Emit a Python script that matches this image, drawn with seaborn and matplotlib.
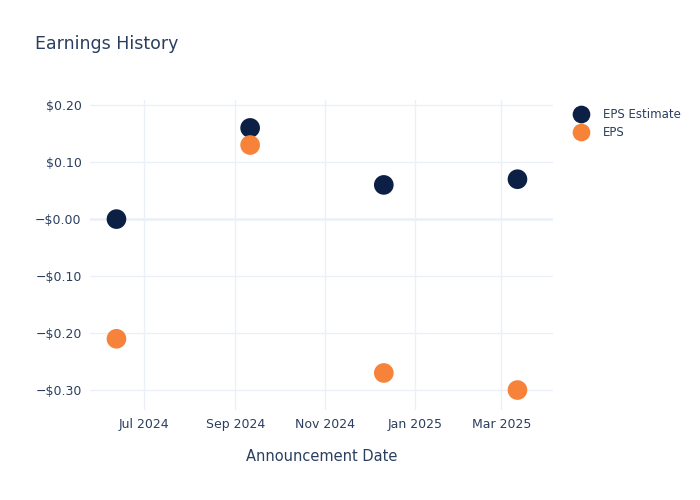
import pandas as pd
import matplotlib.pyplot as plt
import seaborn as sns

# values
dates = ["2024-06-12", "2024-09-11", "2024-12-11", "2025-03-12"]
eps_estimate = [0.00, 0.16, 0.06, 0.07]
eps_actual = [-0.21, 0.13, -0.27, -0.30]
ytick_vals = [0.20, 0.10, 0.00, -0.10, -0.20, -0.30]
ytick_labels = ["$0.20", "$0.10", "\u2212$0.00", "\u2212$0.10", "\u2212$0.20", "\u2212$0.30"]
xtick_dates = ["2024-07-01", "2024-09-01", "2024-11-01", "2025-01-01", "2025-03-01"]
xtick_labels = ["Jul 2024", "Sep 2024", "Nov 2024", "Jan 2025", "Mar 2025"]

df = pd.concat([
    pd.DataFrame({"date": pd.to_datetime(dates), "value": eps_estimate, "series": "EPS Estimate"}),
    pd.DataFrame({"date": pd.to_datetime(dates), "value": eps_actual, "series": "EPS"}),
])

sns.set_style("white")
text_col = "#2a3f5f"
grid_col = "#ebf0f8"

fig = plt.figure(figsize=(7, 5), dpi=100)
ax = fig.add_axes([0.1286, 0.18, 0.661, 0.62])

sns.scatterplot(data=df, x="date", y="value", hue="series",
                palette={"EPS Estimate": "#0c1f44", "EPS": "#f7823a"},
                s=200, edgecolor="none", ax=ax, zorder=3, legend=True)

ax.set_xlim(pd.Timestamp("2024-05-25"), pd.Timestamp("2025-04-05"))
ax.set_ylim(-0.335, 0.209)
ax.set_yticks(ytick_vals)
ax.set_yticklabels(ytick_labels)
ax.set_xticks(pd.to_datetime(xtick_dates))
ax.set_xticklabels(xtick_labels)

ax.grid(True, color=grid_col, linewidth=1, zorder=0)
ax.axhline(0, color=grid_col, linewidth=1.8, zorder=1)
for s in ax.spines.values():
    s.set_visible(False)
ax.tick_params(axis="both", length=0, labelsize=9, labelcolor=text_col, pad=6)

ax.set_xlabel("Announcement Date", fontsize=10.5, color=text_col, labelpad=13)
ax.set_ylabel("")
fig.text(0.05, 0.912, "Earnings History", fontsize=12.5, color=text_col, va="center")

handles, labels = ax.get_legend_handles_labels()
ax.legend(handles, labels, loc="upper left", bbox_to_anchor=(1.025, 0.99),
          frameon=False, fontsize=8.5, labelcolor=text_col, markerscale=0.9,
          handletextpad=0.85, borderaxespad=0, labelspacing=0.42)

plt.savefig("out.png", dpi=100)
